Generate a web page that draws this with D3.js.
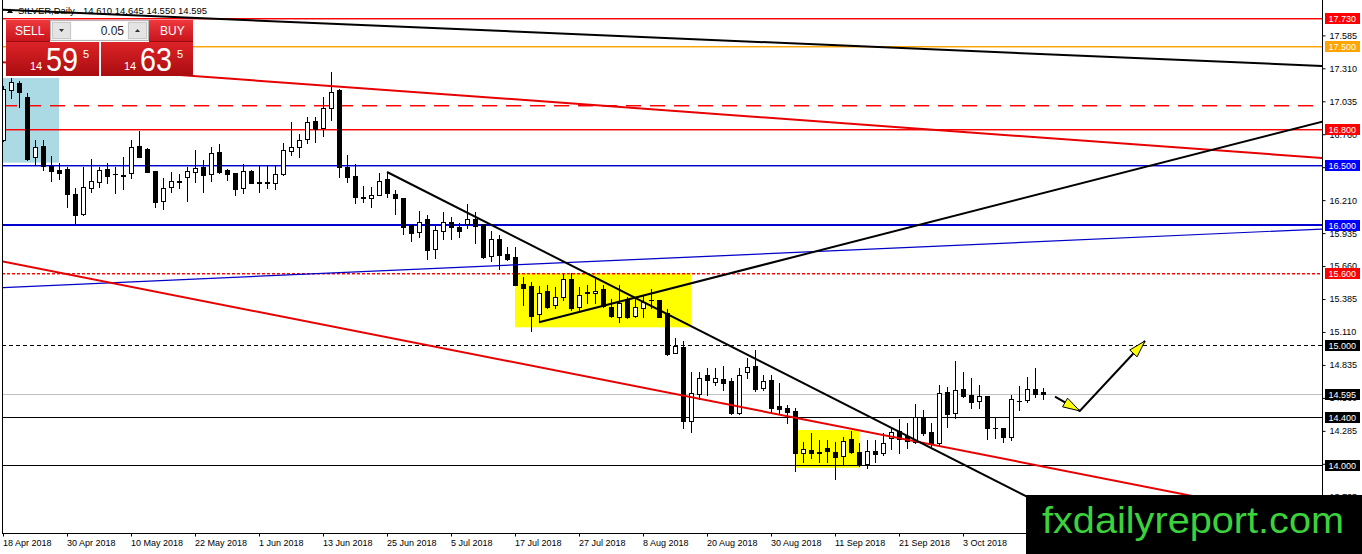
<!DOCTYPE html>
<html><head><meta charset="utf-8">
<script src="https://cdn.jsdelivr.net/npm/d3@7"></script>
<style>
body{margin:0;background:#fff;overflow:hidden;}
svg{display:block;font-family:"Liberation Sans",Arial,sans-serif;}
</style>
</head><body>
<svg id="chart" width="1362" height="554"></svg>
<script>
// ---------------- DATA ----------------
const opens=[16.713,17.130,17.186,17.074,16.568,16.663,16.496,16.462,16.471,16.260,
16.093,16.310,16.365,16.468,16.430,16.420,16.435,16.663,16.635,16.454,
16.206,16.318,16.370,16.402,16.441,16.485,16.427,16.610,16.462,16.435,
16.310,16.454,16.360,16.357,16.357,16.429,16.624,16.652,16.721,16.871,
16.811,16.977,17.130,16.485,16.412,16.235,16.226,16.254,16.385,16.262,
16.226,16.003,15.942,16.051,15.801,15.956,16.026,15.989,16.012,16.051,
16.012,15.747,15.884,15.759,15.734,15.511,15.494,15.258,15.455,15.336,
15.405,15.553,15.321,15.440,15.433,15.467,15.321,15.238,15.383,15.244,
15.308,15.378,15.377,15.271,14.932,14.982,14.370,14.590,14.751,14.695,
14.718,14.701,14.432,14.779,14.826,14.640,14.710,14.492,14.478,14.451,
14.098,14.125,14.108,14.139,14.111,14.078,14.217,14.106,14.006,14.119,
14.098,14.223,14.284,14.242,14.195,14.395,14.273,14.181,14.607,14.432,
14.634,14.584,14.534,14.578,14.310,14.306,14.236,14.537,14.543,14.632,14.610];
const highs=[17.160,17.228,17.208,17.103,16.713,16.713,16.579,16.523,16.490,16.310,
16.485,16.552,16.485,16.523,16.485,16.574,16.713,16.788,16.643,16.454,
16.393,16.449,16.429,16.485,16.629,16.546,16.652,16.679,16.468,16.435,
16.513,16.460,16.496,16.496,16.496,16.690,16.866,16.763,16.902,16.907,
17.074,17.278,17.136,16.588,16.513,16.329,16.318,16.435,16.449,16.296,
16.226,16.003,16.123,16.087,16.003,16.109,16.073,16.023,16.179,16.115,
16.012,15.953,15.920,15.817,15.817,15.572,15.530,15.494,15.503,15.483,
15.594,15.600,15.488,15.503,15.567,15.503,15.383,15.503,15.400,15.391,
15.411,15.467,15.380,15.300,15.058,15.035,14.779,14.779,14.812,14.807,
14.829,14.724,14.807,14.891,14.960,14.751,14.751,14.682,14.501,14.478,
14.195,14.264,14.209,14.209,14.195,14.236,14.284,14.181,14.209,14.209,
14.264,14.301,14.384,14.348,14.509,14.459,14.348,14.668,14.654,14.868,
14.779,14.729,14.668,14.578,14.390,14.310,14.584,14.659,14.737,14.812,14.645];
const lows=[16.700,17.061,16.991,16.546,16.504,16.462,16.373,16.385,16.156,16.012,
16.087,16.281,16.318,16.351,16.268,16.301,16.393,16.568,16.449,16.156,
16.134,16.281,16.310,16.206,16.365,16.281,16.373,16.435,16.379,16.254,
16.268,16.351,16.281,16.310,16.301,16.421,16.588,16.568,16.690,16.699,
16.746,16.880,16.407,16.360,16.190,16.198,16.151,16.254,16.234,16.093,
15.928,15.872,15.906,15.720,15.730,15.884,15.884,15.901,15.976,15.851,
15.730,15.703,15.634,15.711,15.503,15.336,15.121,15.191,15.308,15.308,
15.377,15.294,15.294,15.350,15.350,15.321,15.238,15.191,15.225,15.233,
15.233,15.308,15.233,14.918,14.932,14.306,14.278,14.551,14.584,14.668,
14.626,14.423,14.423,14.724,14.618,14.626,14.432,14.423,14.348,13.952,
14.028,14.056,14.028,14.028,13.883,14.006,14.098,13.994,13.977,14.028,
14.083,14.134,14.098,14.144,14.181,14.250,14.161,14.167,14.320,14.390,
14.570,14.478,14.478,14.217,14.223,14.189,14.209,14.459,14.528,14.570,14.550];
const closes=[17.136,17.199,17.116,16.554,16.657,16.496,16.454,16.435,16.260,16.087,
16.318,16.373,16.462,16.415,16.425,16.415,16.657,16.574,16.449,16.198,
16.310,16.371,16.365,16.454,16.477,16.421,16.602,16.441,16.427,16.301,
16.454,16.357,16.355,16.360,16.427,16.629,16.652,16.713,16.861,16.802,
16.977,17.116,16.485,16.402,16.234,16.228,16.254,16.373,16.268,16.226,
15.989,15.934,16.026,15.795,15.962,16.026,15.984,15.956,16.051,15.995,
15.739,15.884,15.753,15.720,15.503,15.480,15.246,15.433,15.321,15.405,
15.553,15.313,15.419,15.437,15.452,15.327,15.246,15.355,15.233,15.321,
15.363,15.375,15.238,14.924,14.993,14.370,14.598,14.724,14.710,14.724,
14.687,14.432,14.751,14.821,14.632,14.701,14.478,14.467,14.440,14.098,
14.134,14.103,14.104,14.117,14.069,14.203,14.106,14.000,14.117,14.089,
14.181,14.278,14.217,14.200,14.403,14.265,14.181,14.598,14.423,14.626,
14.576,14.523,14.576,14.306,14.306,14.236,14.551,14.534,14.634,14.593,14.595];

const dateTickIndex=[0,8,16,24,32,40,48,56,64,72,80,88,96,104,112,120];
const dateTickLabels=["18 Apr 2018","30 Apr 2018","10 May 2018","22 May 2018","1 Jun 2018","13 Jun 2018","25 Jun 2018","5 Jul 2018","17 Jul 2018","27 Jul 2018","8 Aug 2018","20 Aug 2018","30 Aug 2018","11 Sep 2018","21 Sep 2018","3 Oct 2018"];
const priceTicks=[17.585,17.310,17.035,16.760,16.485,16.210,15.935,15.660,15.385,15.110,14.835,14.560,14.285,14.010,13.735];

const levelPrices=[17.730,17.500,17.000,16.800,16.500,16.000,15.600,15.000,14.595,14.400,14.000];
const levelTags=["17.730","17.500","","16.800","16.500","16.000","15.600","15.000","14.595","14.400","14.000"];

// trend lines: [barIndex, price] pairs
const topBlackLine=[[-0.4,17.80],[164.9,17.33]];
const upperRedLine=[[-0.4,17.363],[164.9,16.562]];
const thinBlueLine=[[-0.4,15.479],[164.9,15.969]];
const lowerRedLine=[[-0.4,15.703],[164.9,13.528]];
const fallingBlackLine=[[48,16.445],[140,13.33]];
const risingBlackLine=[[67,15.191],[164.9,16.865]];
const forecastPath=[[131.5,14.570],[134.6,14.451],[142.75,15.035]];

// zones: [barFrom, barTo, priceTop, priceBottom]
const blueZone=[-0.5,7.0,17.23,16.523];
const yellowZone1=[64,86,15.600,15.149];
const yellowZone2=[99,107.04,14.292,13.977];

const header=["SILVER,Daily","14.610 14.645 14.550 14.595"];
const panelQuote=["14","59","5","14","63","5","0.05"];

// ---------------- RENDER ----------------
const svg=d3.select("#chart");
const x=d3.scaleLinear().domain([0,130]).range([3,1043]);
const y=d3.scaleLinear().domain([14,17.73]).range([465,18]);
const PL=2,PR=1322,PT=0,PB=533;

const defs=svg.append("defs");
defs.append("clipPath").attr("id","plot").append("rect").attr("x",PL+1).attr("y",PT).attr("width",PR-PL-1).attr("height",PB-PT);
const g1=defs.append("linearGradient").attr("id","btn").attr("x1",0).attr("y1",0).attr("x2",0).attr("y2",1);
g1.append("stop").attr("offset","0%").attr("stop-color","#ee3a3e");
g1.append("stop").attr("offset","100%").attr("stop-color","#c8141b");
const g2=defs.append("linearGradient").attr("id","big").attr("x1",0).attr("y1",0).attr("x2",0).attr("y2",1);
g2.append("stop").attr("offset","0%").attr("stop-color","#dc2328");
g2.append("stop").attr("offset","100%").attr("stop-color","#a90c10");

const plot=svg.append("g").attr("clip-path","url(#plot)");

function zone(z,color){
  plot.append("rect").attr("x",x(z[0])).attr("y",y(z[2]))
    .attr("width",x(z[1])-x(z[0])).attr("height",y(z[3])-y(z[2])).attr("fill",color);
}
zone(blueZone,"#acdae4");
zone(yellowZone1,"#ffff00");
zone(yellowZone2,"#ffff00");

// title
svg.append("path").attr("d","M7,13L13,13L10,8.5Z").attr("fill","#000");
svg.append("text").attr("x",18).attr("y",14).attr("font-size","9.5px").attr("fill","#000").text(header[0]);
svg.append("text").attr("x",83).attr("y",14).attr("font-size","9.5px").attr("fill","#000").text(header[1]);

// horizontal levels
const levelStyle=[
 {c:"#ff0000",w:1,d:null,soft:1},{c:"#ffa500",w:1,d:null,soft:1},{c:"#ff0000",w:1,d:"15,9",end:1317,soft:1},
 {c:"#ff0000",w:1,d:null,soft:1},{c:"#0000d0",w:1,d:null,soft:1},{c:"#0000d0",w:2,d:null},
 {c:"#ff0000",w:1,d:"3,2",soft:1},{c:"#000",w:1,d:"4,3"},{c:"#c0c0c0",w:1,d:null},
 {c:"#000",w:1,d:null},{c:"#000",w:1,d:null}];
const tagColor=["#ff0000","#ffa500","","#ff0000","#0000ff","#0000ff","#ff0000","#000","#000","#000","#000"];

const lg=plot.append("g").attr("shape-rendering","crispEdges");
levelPrices.forEach((p,i)=>{
  const s=levelStyle[i];
  const r=Math.round(y(p))-(s.w===2?1:0);
  const rows=[[r,s.w,1]];
  if(s.soft) rows.push([r+1,1,0.45]);
  rows.forEach(([ry,h,op])=>{
    lg.append("line").attr("x1",PL).attr("x2",s.end||PR).attr("y1",ry+h/2).attr("y2",ry+h/2)
      .attr("stroke",s.c).attr("stroke-width",h).attr("stroke-opacity",op)
      .attr("stroke-dasharray",s.d||null);
  });
});

// candles
const cg=plot.append("g").attr("shape-rendering","crispEdges");
opens.forEach((o,i)=>{
  const c=closes[i],h=highs[i],lo=lows[i];
  const cx=Math.round(x(i));
  cg.append("line").attr("x1",cx+0.5).attr("x2",cx+0.5)
    .attr("y1",Math.round(y(h))).attr("y2",Math.round(y(lo))+1).attr("stroke","#000").attr("stroke-width",1);
  const yt=Math.round(y(Math.max(o,c))), yb=Math.round(y(Math.min(o,c)));
  if(yb-yt<1){
    cg.append("line").attr("x1",cx-2).attr("x2",cx+3).attr("y1",yt+0.5).attr("y2",yt+0.5).attr("stroke","#000");
  } else {
    cg.append("rect").attr("x",cx-1.5).attr("y",yt+0.5).attr("width",4).attr("height",yb-yt)
      .attr("fill",c>=o?"#fff":"#000").attr("stroke","#000").attr("stroke-width",1);
  }
});

// trend lines
function tline(pts,color,w){
  plot.append("line").attr("x1",x(pts[0][0])).attr("y1",y(pts[0][1]))
   .attr("x2",x(pts[1][0])).attr("y2",y(pts[1][1])).attr("stroke",color).attr("stroke-width",w);
}
tline(topBlackLine,"#000",2);
tline(upperRedLine,"#e80000",2);
tline(thinBlueLine,"#0000c8",1.2);
tline(lowerRedLine,"#e80000",2);
tline(fallingBlackLine,"#000",2);
tline(risingBlackLine,"#000",2);

// forecast arrows
const fp=forecastPath.map(d=>[x(d[0]),y(d[1])]);
plot.append("path").attr("d",d3.line()(fp)).attr("fill","none").attr("stroke","#000").attr("stroke-width",2);
function head(a,b){
  const dx=b[0]-a[0],dy=b[1]-a[1],L=Math.hypot(dx,dy),ux=dx/L,uy=dy/L;
  const bx=b[0]-ux*17,by=b[1]-uy*17;
  const p=[[b[0],b[1]],[bx-uy*5,by+ux*5],[bx+uy*5,by-ux*5]];
  plot.append("path").attr("d","M"+p.join("L")+"Z").attr("fill","#ffff00").attr("stroke","#000").attr("stroke-width",1);
}
head(fp[0],fp[1]);
head(fp[1],fp[2]);

// frame
const fr=svg.append("g").attr("shape-rendering","crispEdges");
fr.append("line").attr("x1",PL+0.5).attr("x2",PL+0.5).attr("y1",0).attr("y2",PB+1).attr("stroke","#000");
fr.append("line").attr("x1",PR+0.5).attr("x2",PR+0.5).attr("y1",0).attr("y2",PB+1).attr("stroke","#000");
fr.append("line").attr("x1",PL).attr("x2",PR+1).attr("y1",PB+0.5).attr("y2",PB+0.5).attr("stroke","#000");

// y axis
const ya=svg.append("g").attr("transform",`translate(${PR+0.5},0)`)
  .call(d3.axisRight(y).tickValues(priceTicks).tickFormat(d3.format(".3f")).tickSize(3).tickPadding(4).tickSizeOuter(0));
ya.select(".domain").remove();
ya.selectAll("text").attr("font-size","9px").attr("font-family","Liberation Sans, Arial, sans-serif").attr("fill","#000");
ya.selectAll("line").attr("stroke","#000");

// x axis
const xa=svg.append("g").attr("transform",`translate(0,${PB+0.5})`)
  .call(d3.axisBottom(x).tickValues(dateTickIndex).tickFormat((d,i)=>dateTickLabels[i]).tickSize(3).tickPadding(3).tickSizeOuter(0));
xa.select(".domain").remove();
xa.selectAll(".tick").attr("transform",d=>`translate(${Math.round(x(d))+0.5},0)`);
xa.selectAll("text").attr("font-size","9px").attr("font-family","Liberation Sans, Arial, sans-serif").attr("fill","#000").attr("text-anchor","start").attr("x",-0.5);
xa.selectAll("line").attr("stroke","#000");

// level tags
levelPrices.forEach((p,i)=>{
  if(!levelTags[i]) return;
  const yy=Math.round(y(p));
  svg.append("rect").attr("x",1325).attr("y",yy-5).attr("width",35).attr("height",11).attr("fill",tagColor[i]);
  svg.append("text").attr("x",1328.5).attr("y",yy+0.5).attr("dy","0.35em").attr("font-size","9px").attr("fill","#fff").text(levelTags[i]);
});

// trade panel
const pn=svg.append("g");
pn.append("rect").attr("x",6).attr("y",20).attr("width",187).attr("height",56).attr("fill","#fff");
pn.append("rect").attr("x",6).attr("y",20).attr("width",44).attr("height",21).attr("fill","url(#btn)");
pn.append("rect").attr("x",149).attr("y",20).attr("width",44).attr("height",21).attr("fill","url(#btn)");
pn.append("rect").attr("x",50.5).attr("y",20.5).attr("width",98).attr("height",20).attr("fill","#f2f2f2").attr("stroke","#b5b5b5");
pn.append("rect").attr("x",52.5).attr("y",22.5).attr("width",18).attr("height",16).attr("fill","#e4e4e4").attr("stroke","#c8c8c8");
pn.append("rect").attr("x",71.5).attr("y",21.5).attr("width",56).attr("height",18).attr("fill","#fff");
pn.append("rect").attr("x",128.5).attr("y",22.5).attr("width",18).attr("height",16).attr("fill","#e4e4e4").attr("stroke","#c8c8c8");
pn.append("path").attr("d","M59,29L64,29L61.5,32Z").attr("fill","#333");
pn.append("path").attr("d","M135,32L140,32L137.5,29Z").attr("fill","#333");
pn.append("text").attr("x",124).attr("y",35).attr("text-anchor","end").attr("font-size","12px").attr("fill","#222").text(panelQuote[6]);
pn.append("text").attr("x",15).attr("y",35).attr("font-size","12px").attr("fill","#fff").text("SELL");
pn.append("text").attr("x",160).attr("y",35).attr("font-size","12px").attr("fill","#fff").text("BUY");
pn.append("rect").attr("x",6).attr("y",42).attr("width",93).attr("height",34).attr("fill","url(#big)");
pn.append("rect").attr("x",101).attr("y",42).attr("width",92).attr("height",34).attr("fill","url(#big)");
pn.append("line").attr("x1",6).attr("x2",50).attr("y1",41.5).attr("y2",41.5).attr("stroke","#9a0c10");
pn.append("line").attr("x1",149).attr("x2",193).attr("y1",41.5).attr("y2",41.5).attr("stroke","#9a0c10");
function quote(x0,parts){
  pn.append("text").attr("x",x0).attr("y",70).attr("font-size","11px").attr("fill","#fff").text(parts[0]);
  pn.append("text").attr("x",x0+16).attr("y",71).attr("font-size","33px").attr("fill","#fff")
    .attr("textLength",32).attr("lengthAdjust","spacingAndGlyphs").text(parts[1]);
  pn.append("text").attr("x",x0+53).attr("y",58).attr("font-size","11px").attr("fill","#fff").text(parts[2]);
}
quote(30,panelQuote.slice(0,3));
quote(124,panelQuote.slice(3,6));

// watermark
svg.append("rect").attr("x",1026).attr("y",495).attr("width",336).attr("height",59).attr("fill","#000");
svg.append("text").attr("x",1042).attr("y",533).attr("font-size","37px").attr("fill","#3cd23c")
  .attr("textLength",302).attr("lengthAdjust","spacingAndGlyphs").text("fxdailyreport.com");
</script>
</body></html>
